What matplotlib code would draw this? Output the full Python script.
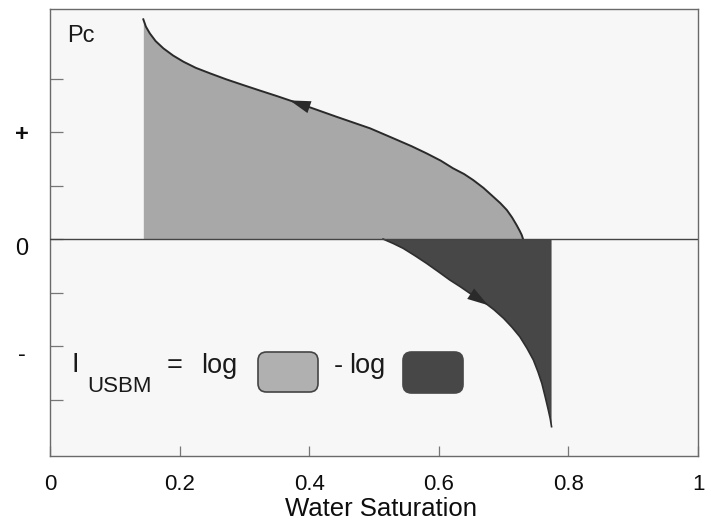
import numpy as np
import matplotlib
matplotlib.use("Agg")
import matplotlib.pyplot as plt
from matplotlib.patches import FancyBboxPatch

plt.rcParams['font.family'] = ['Liberation Sans', 'DejaVu Sans']

# Drainage (positive capillary pressure) curve
sat_drain = [0.144, 0.148, 0.154, 0.163, 0.175, 0.190, 0.206, 0.225, 0.247, 0.272,
             0.298, 0.324, 0.350, 0.391, 0.442, 0.494, 0.530, 0.558, 0.581, 0.603,
             0.622, 0.639, 0.653, 0.669, 0.684, 0.695, 0.705, 0.713, 0.720, 0.725,
             0.728, 0.730]
pc_drain = [4.107, 3.970, 3.845, 3.700, 3.564, 3.430, 3.314, 3.200, 3.097, 2.985,
            2.879, 2.775, 2.673, 2.505, 2.286, 2.069, 1.882, 1.735, 1.602, 1.465,
            1.322, 1.215, 1.103, 0.955, 0.791, 0.670, 0.542, 0.405, 0.262, 0.150,
            0.075, 0.0]

# Imbibition / forced (negative capillary pressure) curve
sat_imb = [0.514, 0.530, 0.545, 0.563, 0.581, 0.599, 0.617, 0.633, 0.648, 0.669,
           0.685, 0.700, 0.713, 0.725, 0.736, 0.746, 0.753, 0.759, 0.764, 0.769,
           0.772, 0.774]
pc_imb = [0.0, -0.085, -0.174, -0.310, -0.454, -0.608, -0.766, -0.890, -1.015,
          -1.172, -1.320, -1.482, -1.650, -1.826, -2.040, -2.262, -2.480, -2.697,
          -2.940, -3.196, -3.360, -3.508]

x_ticks = [0, 0.2, 0.4, 0.6, 0.8, 1]
x_tick_labels = ['0', '0.2', '0.4', '0.6', '0.8', '1']
y_ticks = [-3, -2, -1, 0, 1, 2, 3]
y_label_pos = [2, 0, -2]
y_label_text = ['+', '0', '-']

arrow_drain_sat = [0.395, 0.370]   # tail, tip
arrow_imb_sat = [0.652, 0.676]

W, H = 711, 522
fig = plt.figure(figsize=(W / 100, H / 100), dpi=100)
fig.patch.set_facecolor('white')
ax = fig.add_axes([50 / W, 66 / H, 648 / W, 447 / H])
ax.set_facecolor('#f7f7f7')
ax.set_xlim(0, 1)
ax.set_ylim(-4.056, 4.30)

light = '#a8a8a8'
dark = '#474747'
edge = '#2a2a2a'
txt = '#0d0d0d'

ax.fill_between(sat_drain, pc_drain, 0, color=light, lw=0, zorder=2)
ax.plot(sat_drain, pc_drain, color=edge, lw=1.4, zorder=3)

poly_x = list(sat_imb) + [sat_imb[-1]]
poly_y = list(pc_imb) + [0]
ax.fill(poly_x, poly_y, color=dark, lw=0, zorder=2)
ax.plot(sat_imb, pc_imb, color='#2e2e2e', lw=1.2, zorder=3)

ax.axhline(0, color='#444444', lw=1.0, zorder=4)

def arrow(sx, sy, s_pair):
    tail = (s_pair[0], np.interp(s_pair[0], sx, sy))
    tip = (s_pair[1], np.interp(s_pair[1], sx, sy))
    ax.annotate('', xy=tip, xytext=tail,
                arrowprops=dict(arrowstyle='-|>,head_length=1.0,head_width=0.3',
                                mutation_scale=15, color='#2a2a2a', lw=0,
                                shrinkA=0, shrinkB=0), zorder=5)

arrow(sat_drain, pc_drain, arrow_drain_sat)
arrow(sat_imb, pc_imb, arrow_imb_sat)

for s in ax.spines.values():
    s.set_color('#6a6a6a')
    s.set_linewidth(1.0)

ax.set_xticks(x_ticks)
ax.set_xticklabels(x_tick_labels, fontsize=16, color=txt)
ax.tick_params(axis='x', direction='in', length=7, width=0.9, color='#777777', pad=13)
ax.set_yticks(y_ticks)
ax.set_yticklabels([])
ax.tick_params(axis='y', direction='in', length=9, width=0.9, color='#777777')

offsets = {'+': -2, '0': -10, '-': -9}
for pos, lab in zip(y_label_pos, y_label_text):
    ax.annotate(lab, xy=(0, pos), xycoords=('axes fraction', 'data'),
                xytext=(-28 * 0.72, offsets[lab] * 0.72), textcoords='offset points',
                ha='center', va='center', fontsize=17,
                fontweight='bold' if lab == '+' else 'normal', color=txt)

def ftext(x, y, s, **kw):
    fig.text(x / W, 1 - y / H, s, **kw)

ftext(381, 516, 'Water Saturation', fontsize=18.5, va='baseline', ha='center', color=txt)

ftext(67, 42, 'Pc', fontsize=17, va='baseline', ha='left', color='#1a1a1a')

ftext(72, 372, 'I', fontsize=19.5, va='baseline', ha='left', color='#1a1a1a')
ftext(87, 392, 'USBM', fontsize=16, va='baseline', ha='left', color='#1a1a1a')
ftext(175, 366, '=', fontsize=19.5, va='center', ha='center', color='#1a1a1a')
ftext(201, 373, 'log', fontsize=19.5, va='baseline', ha='left', color='#1a1a1a')
ftext(338, 366, '-', fontsize=19.5, va='center', ha='center', color='#1a1a1a')
ftext(349, 373, 'log', fontsize=19.5, va='baseline', ha='left', color='#1a1a1a')

def fbox(x0, y0, x1, y1, fc, ec):
    p = FancyBboxPatch((x0 / W, 1 - y1 / H), (x1 - x0) / W, (y1 - y0) / H,
                       boxstyle='round,pad=0,rounding_size=0.012',
                       transform=fig.transFigure, fc=fc, ec=ec, lw=1.2,
                       mutation_aspect=W / H)
    fig.add_artist(p)

fbox(258, 352, 318, 392, '#b0b0b0', '#444444')
fbox(403, 352, 463, 393, dark, dark)

fig.savefig('out.png', dpi=100)
